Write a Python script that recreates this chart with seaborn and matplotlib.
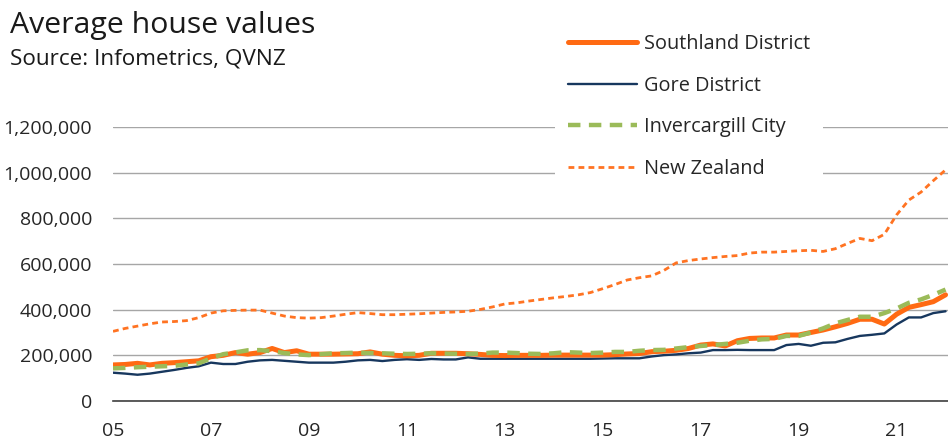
import matplotlib
matplotlib.use("Agg")
import matplotlib.pyplot as plt
import seaborn as sns
import numpy as np
import pandas as pd

sns.set_theme(style="white")
plt.rcParams['font.family'] = ['Open Sans', 'DejaVu Sans']

# Quarterly observations, 2005Q1 .. 2022Q1
start_year = 2005
n_quarters = 69
years = [start_year + i * 0.25 for i in range(n_quarters)]

southland = [158, 160, 165, 158,
             165, 168, 172, 176,
             194, 200, 212, 205,
             212, 230, 212, 220,
             205, 205, 205, 206,
             207, 215, 205, 200,
             198, 200, 209, 209,
             209, 207, 204, 200,
             199, 200, 200, 200,
             201, 201, 201, 201,
             201, 203, 206, 208,
             216, 218, 222, 230,
             245, 250, 241, 264,
             274, 276, 276, 289,
             289, 300, 311, 325,
             340, 358, 358, 337,
             380, 410, 422, 435,
             465]
gore = [124, 120, 115, 120,
        128, 136, 145, 152,
        168, 162, 162, 172,
        178, 180, 176, 172,
        168, 168, 168, 172,
        178, 180, 175, 180,
        183, 180, 184, 182,
        182, 191, 185, 185,
        185, 185, 185, 185,
        185, 185, 185, 185,
        186, 187, 187, 187,
        195, 201, 204, 209,
        212, 223, 223, 224,
        223, 223, 223, 245,
        250, 242, 255, 257,
        272, 285, 290, 296,
        335, 366, 366, 385,
        393]
invercargill = [143, 145, 148, 150,
                152, 154, 160, 165,
                187, 205, 213, 222,
                223, 218, 210, 204,
                201, 205, 209, 210,
                212, 210, 209, 207,
                206, 207, 209, 208,
                207, 206, 208, 212,
                212, 210, 207, 206,
                209, 214, 212, 210,
                212, 215, 215, 220,
                223, 224, 230, 236,
                241, 245, 250, 255,
                264, 270, 272, 285,
                285, 300, 318, 340,
                355, 369, 369, 385,
                405, 430, 445, 465,
                488]
new_zealand = [305, 318, 328, 338,
               346, 348, 352, 365,
               385, 395, 397, 398,
               398, 385, 372, 365,
               363, 365, 372, 380,
               387, 383, 378, 378,
               380, 382, 385, 388,
               390, 393, 401, 412,
               425, 430, 438, 445,
               452, 458, 465, 475,
               492, 510, 530, 540,
               548, 572, 605, 615,
               622, 628, 633, 637,
               648, 652, 652, 655,
               658, 660, 655, 667,
               690, 712, 702, 730,
               815, 880, 915, 965,
               1012]

series_names = ["Southland District", "Gore District", "Invercargill City", "New Zealand"]
series_vals = [southland, gore, invercargill, new_zealand]

y_ticks = [0, 200000, 400000, 600000, 800000, 1000000, 1200000]
x_tick_years = list(range(2005, 2023))
x_label_years = list(range(2005, 2022, 2))

title = "Average house values"
subtitle = "Source: Infometrics, QVNZ"

df = pd.DataFrame({
    "year": np.tile(years, len(series_names)),
    "value": np.concatenate([np.array(v) * 1000 for v in series_vals]),
    "series": np.repeat(series_names, n_quarters),
})

W, H = 948, 443
fig = plt.figure(figsize=(W / 100, H / 100), dpi=100)
ax = fig.add_axes([113 / W, 1 - 401 / H, (948 - 113) / W, (401 - 127) / H])

styles = {
    "Southland District": dict(color="#FF6A13", lw=3.6, ls="-", z=4),
    "Gore District": dict(color="#17375E", lw=1.7, ls="-", z=3),
    "Invercargill City": dict(color="#9BBB59", lw=3.2, ls=(0, (2.8, 1.9)), z=5),
    "New Zealand": dict(color="#FF7322", lw=2.0, ls=(0, (2.1, 1.5)), z=2),
}

for name in series_names:
    st = styles[name]
    sub = df[df["series"] == name]
    sns.lineplot(data=sub, x="year", y="value", ax=ax, color=st["color"],
                 linewidth=st["lw"], linestyle=st["ls"], label=name,
                 zorder=st["z"], estimator=None, sort=False)

ax.set_xlim(2005, 2022.05)
ax.set_ylim(0, 1200000)
ax.set_yticks(y_ticks)
ax.set_yticklabels([f"{v:,}" for v in y_ticks])
ax.set_xticks(x_tick_years)
ax.set_xticklabels([f"{y % 100:02d}" if y in x_label_years else "" for y in x_tick_years])
ax.set_xlabel("")
ax.set_ylabel("")

ax.grid(axis="y", color="#A6A6A6", linewidth=1.0)
ax.set_axisbelow(True)
for s in ["top", "right", "left"]:
    ax.spines[s].set_visible(False)
ax.spines["bottom"].set_color("#404040")
ax.spines["bottom"].set_linewidth(1.2)
ax.tick_params(axis="x", which="major", direction="out", length=5.8, width=1.2,
               color="#404040", labelsize=14, labelcolor="#262626", pad=9)
ax.tick_params(axis="y", length=0, labelsize=14, labelcolor="#262626", pad=15)

leg = ax.legend(loc="upper left", bbox_to_anchor=((555 - 113) / (948 - 113), (401 - 21) / (401 - 127)),
                frameon=True, facecolor="white", edgecolor="none", framealpha=1,
                fontsize=14.3, handlelength=3.5, handletextpad=0.35, labelspacing=1.09,
                borderpad=0.65, borderaxespad=0)
for t in leg.get_texts():
    t.set_color("#262626")

fig.text(10 / W, 1 - 11 / H, title, fontsize=21.8, color="#1a1a1a", va="top", ha="left")
fig.text(10 / W, 1 - 49 / H, subtitle, fontsize=16.2, color="#1a1a1a", va="top", ha="left")

fig.savefig("out.png", dpi=100)
